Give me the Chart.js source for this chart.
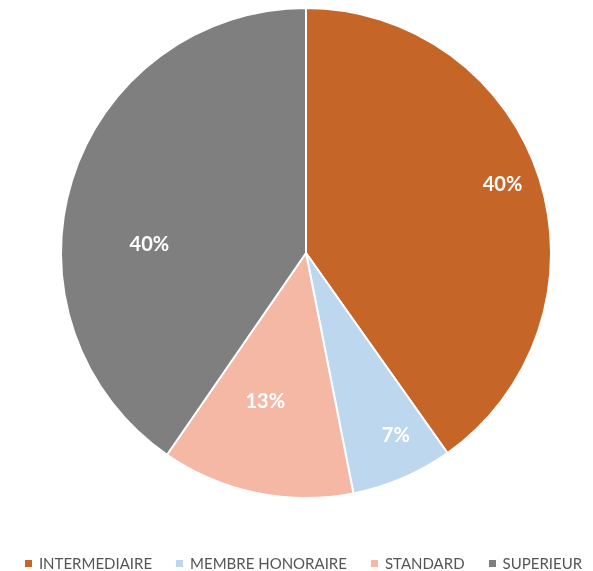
<!DOCTYPE html>
<html>
<head>
<meta charset="utf-8">
<script src="https://cdn.jsdelivr.net/npm/chart.js@4"></script>
<style>
  html, body { margin: 0; padding: 0; background: #fff; }
  #wrap { position: relative; width: 593px; height: 571px; overflow: hidden; }
  #legend {
    position: absolute; left: 7px; width: 593px; top: 554px; height: 18px;
    display: flex; justify-content: center; align-items: center;
    font: 15px Lato, "Open Sans", sans-serif; color: #555;
  }
  #legend .item { display: flex; align-items: center; margin: 0 12px; white-space: nowrap; }
  #legend .box { width: 7px; height: 7px; margin-right: 7px; }
</style>
</head>
<body>
<div id="wrap"><canvas id="pie"></canvas><div id="legend"></div></div>
<script>
const categories = ["INTERMEDIAIRE", "MEMBRE HONORAIRE", "STANDARD", "SUPERIEUR"];
const shares = [40.2, 6.7, 12.7, 40.4];
const colors = ["#C56528", "#BDD7EE", "#F4B8A4", "#7F7F7F"];

// where each percentage sits: [fraction of radius, angle from top in degrees]
const labelSpots = [[0.85, 70.7], [0.83, 153.8], [0.63, 195.3], [0.64, 273]];

const pctLabels = {
  id: "pctLabels",
  afterDatasetsDraw(chart) {
    const ctx = chart.ctx;
    const meta = chart.getDatasetMeta(0);
    const total = shares.reduce((a, b) => a + b, 0);
    ctx.save();
    ctx.fillStyle = "#fff";
    ctx.font = "bold 20px Lato, 'Open Sans', sans-serif";
    ctx.textAlign = "center";
    ctx.textBaseline = "middle";
    meta.data.forEach((arc, i) => {
      const { x, y, outerRadius } = arc.getProps(["x", "y", "outerRadius"], true);
      const [f, deg] = labelSpots[i];
      const a = (deg - 90) * Math.PI / 180;
      const pct = Math.round((shares[i] / total) * 100) + "%";
      ctx.fillText(pct, x + Math.cos(a) * outerRadius * f, y + Math.sin(a) * outerRadius * f);
    });
    ctx.restore();
  },
};

const chart = new Chart(document.getElementById("pie"), {
  type: "pie",
  data: {
    labels: categories,
    datasets: [
      {
        data: shares,
        backgroundColor: colors,
        borderColor: "#fff",
        borderWidth: 2,
      },
    ],
  },
  options: {
    responsive: true,
    maintainAspectRatio: false,
    animation: false,
    layout: { padding: { top: 7, bottom: 72, left: 19, right: 0 } },
    plugins: {
      tooltip: { enabled: false },
      legend: { display: false },
    },
  },
  plugins: [pctLabels],
});

// legend row under the pie
const legend = document.getElementById("legend");
chart.data.labels.forEach((name, i) => {
  const item = document.createElement("span");
  item.className = "item";
  const box = document.createElement("span");
  box.className = "box";
  box.style.background = chart.data.datasets[0].backgroundColor[i];
  item.appendChild(box);
  item.appendChild(document.createTextNode(name));
  legend.appendChild(item);
});
</script>
</body>
</html>
